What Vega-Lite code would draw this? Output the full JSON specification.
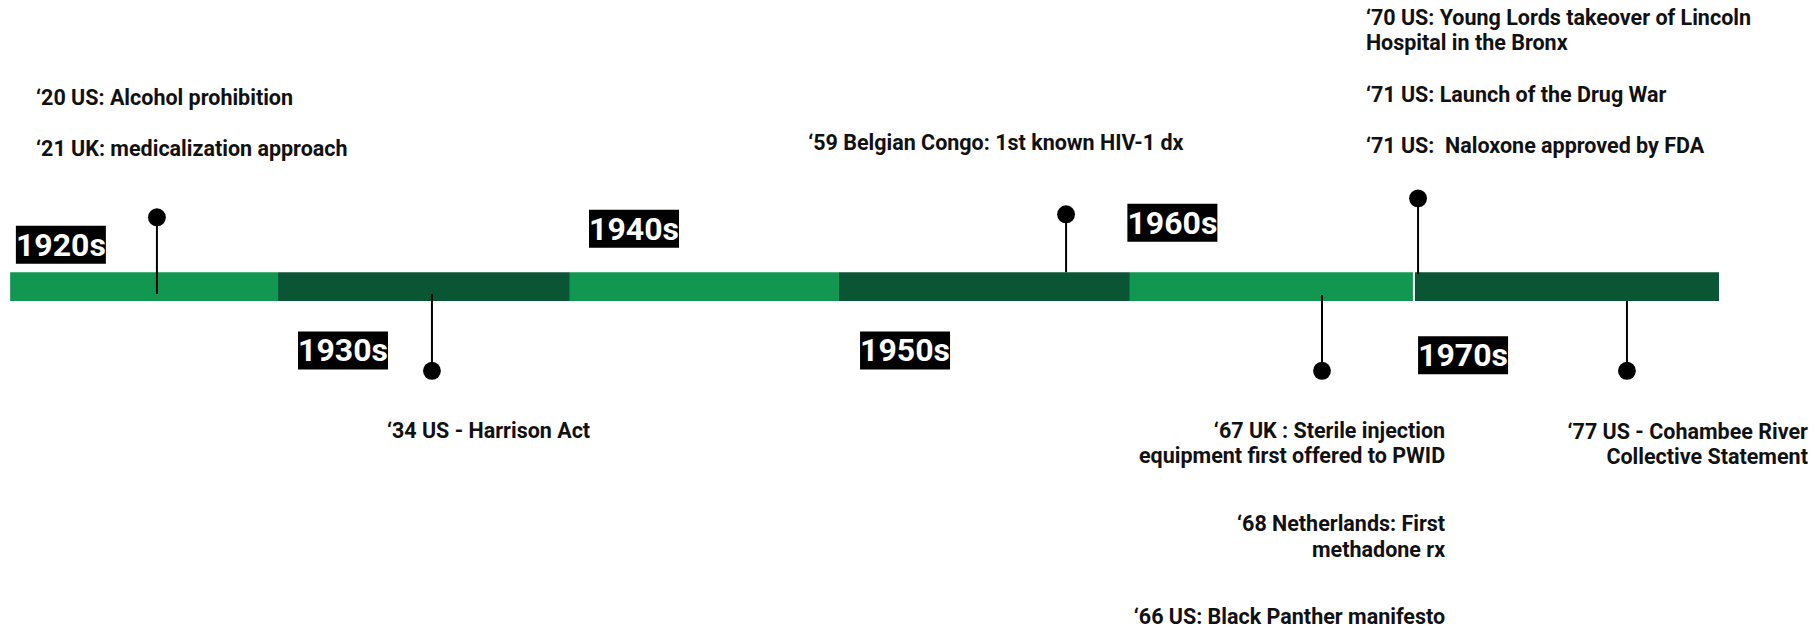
{
  "$schema": "https://vega.github.io/schema/vega-lite/v6.json",
  "width": 1814,
  "height": 629,
  "padding": 0,
  "autosize": {"type": "fit", "contains": "padding"},
  "background": "white",
  "config": {"view": {"stroke": null}},
  "datasets": {
    "segments": [
      {"decade": "1920s", "start": 1920.04, "end": 1929.44},
      {"decade": "1930s", "start": 1929.44, "end": 1939.68},
      {"decade": "1940s", "start": 1939.68, "end": 1949.12},
      {"decade": "1950s", "start": 1949.12, "end": 1959.33},
      {"decade": "1960s", "start": 1959.33, "end": 1969.26},
      {"decade": "1970s", "start": 1969.33, "end": 1980.0}
    ],
    "labels": [
      {"decade": "1920s", "x": 1921.82, "y": 4.25},
      {"decade": "1930s", "x": 1931.72, "y": -6.35},
      {"decade": "1940s", "x": 1941.93, "y": 5.85},
      {"decade": "1950s", "x": 1951.44, "y": -6.35},
      {"decade": "1960s", "x": 1960.82, "y": 6.45},
      {"decade": "1970s", "x": 1971.02, "y": -6.85}
    ],
    "pins": [
      {"pin": "1920", "year": 1925.19, "head": 7.0, "base": -0.7},
      {"pin": "1934", "year": 1934.84, "head": -8.4, "base": -0.7},
      {"pin": "1959", "year": 1957.09, "head": 7.3, "base": 1.5},
      {"pin": "1970", "year": 1969.44, "head": 8.9, "base": 1.3},
      {"pin": "1967", "year": 1966.07, "head": -8.4, "base": -0.8},
      {"pin": "1977", "year": 1976.77, "head": -8.4, "base": -1.4}
    ],
    "events": [
      {"text": ["‘20 US: Alcohol prohibition"], "x": 1920.95, "y": 20.1, "anchor": "left"},
      {"text": ["‘21 UK: medicalization approach"], "x": 1920.95, "y": 15.0, "anchor": "left"},
      {"text": ["‘34 US - Harrison Act"], "x": 1933.26, "y": -13.3, "anchor": "left"},
      {"text": ["‘59 Belgian Congo: 1st known HIV-1 dx"], "x": 1948.04, "y": 15.6, "anchor": "left"},
      {"text": ["‘70 US: Young Lords takeover of Lincoln", "Hospital in the Bronx"], "x": 1967.61, "y": 28.1, "anchor": "left"},
      {"text": ["‘71 US: Launch of the Drug War"], "x": 1967.61, "y": 20.4, "anchor": "left"},
      {"text": ["‘71 US: \u00a0Naloxone approved by FDA"], "x": 1967.61, "y": 15.3, "anchor": "left"},
      {"text": ["‘67 UK : Sterile injection", "equipment first offered to PWID"], "x": 1970.39, "y": -13.3, "anchor": "right"},
      {"text": ["‘68 Netherlands: First", "methadone rx"], "x": 1970.39, "y": -22.7, "anchor": "right"},
      {"text": ["‘66 US: Black Panther manifesto"], "x": 1970.39, "y": -32.0, "anchor": "right"},
      {"text": ["‘77 US - Cohambee River", "Collective Statement"], "x": 1983.12, "y": -13.4, "anchor": "right"}
    ]
  },
  "layer": [
    {
      "data": {"name": "segments"},
      "mark": {"type": "rect"},
      "encoding": {
        "x": {"field": "start", "type": "quantitative", "scale": {"domain": [1919.684, 1983.333], "nice": false, "zero": false}, "axis": null},
        "x2": {"field": "end"},
        "y": {"datum": 1.5, "type": "quantitative", "scale": {"domain": [-34.1, 28.8], "nice": false, "zero": false}, "axis": null},
        "y2": {"datum": -1.4},
        "color": {"field": "decade", "type": "nominal", "legend": null, "scale": {"domain": ["1920s", "1930s", "1940s", "1950s", "1960s", "1970s"], "range": ["#129751", "#0a5634", "#129751", "#0a5634", "#129751", "#0a5634"]}}
      }
    },
    {
      "data": {"name": "pins"},
      "mark": {"type": "rule", "color": "black", "strokeWidth": 2},
      "encoding": {
        "x": {"field": "year", "type": "quantitative"},
        "y": {"field": "head", "type": "quantitative"},
        "y2": {"field": "base"}
      }
    },
    {
      "data": {"name": "pins"},
      "mark": {"type": "point", "shape": "circle", "filled": true, "color": "black", "opacity": 1, "size": 320},
      "encoding": {
        "x": {"field": "year", "type": "quantitative"},
        "y": {"field": "head", "type": "quantitative"}
      }
    },
    {
      "data": {"name": "labels"},
      "mark": {"type": "rect", "color": "black", "width": 90, "height": 38},
      "encoding": {
        "x": {"field": "x", "type": "quantitative"},
        "y": {"field": "y", "type": "quantitative"}
      }
    },
    {
      "data": {"name": "labels"},
      "mark": {"type": "text", "color": "white", "font": "Roboto", "fontWeight": "bold", "fontSize": 32, "align": "center", "baseline": "middle", "dy": 1},
      "encoding": {
        "x": {"field": "x", "type": "quantitative"},
        "y": {"field": "y", "type": "quantitative"},
        "text": {"field": "decade"}
      }
    },
    {
      "data": {"name": "events"},
      "transform": [{"filter": "datum.anchor === 'left'"}],
      "mark": {"type": "text", "color": "#111111", "font": "Roboto", "fontWeight": "bold", "fontSize": 21.5, "align": "left", "baseline": "top", "lineHeight": 25.5, "dy": 1},
      "encoding": {
        "x": {"field": "x", "type": "quantitative"},
        "y": {"field": "y", "type": "quantitative"},
        "text": {"field": "text"}
      }
    },
    {
      "data": {"name": "events"},
      "transform": [{"filter": "datum.anchor === 'right'"}],
      "mark": {"type": "text", "color": "#111111", "font": "Roboto", "fontWeight": "bold", "fontSize": 21.5, "align": "right", "baseline": "top", "lineHeight": 25.5, "dy": 1},
      "encoding": {
        "x": {"field": "x", "type": "quantitative"},
        "y": {"field": "y", "type": "quantitative"},
        "text": {"field": "text"}
      }
    }
  ]
}
